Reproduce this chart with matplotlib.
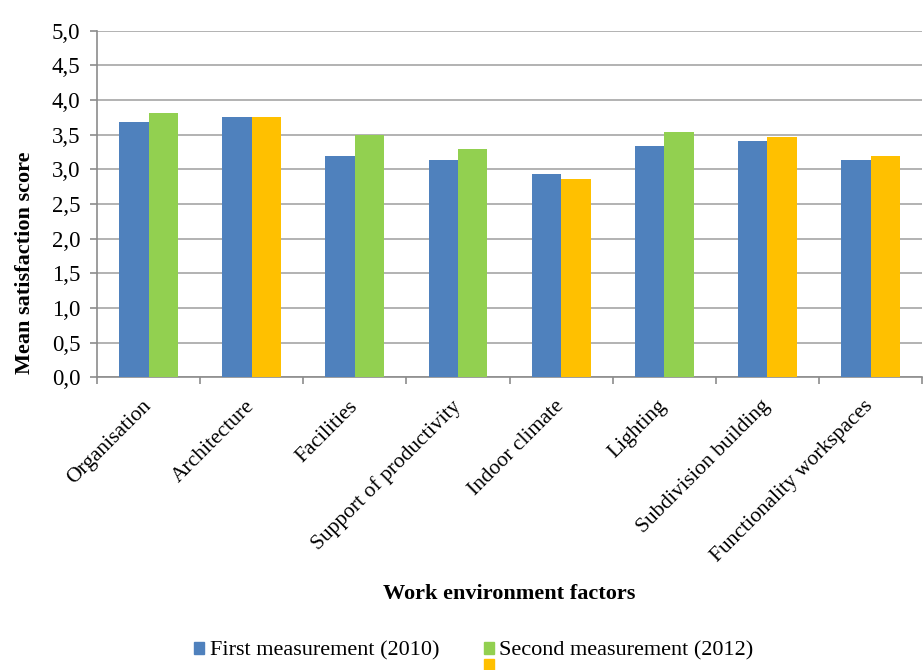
import matplotlib
matplotlib.use("Agg")
import matplotlib.pyplot as plt
import numpy as np
from matplotlib.patches import Patch

categories = ["Organisation", "Architecture", "Facilities", "Support of productivity",
              "Indoor climate", "Lighting", "Subdivision building", "Functionality workspaces"]
first_2010 = [3.69, 3.75, 3.20, 3.13, 2.93, 3.34, 3.41, 3.14]
second_2012 = [3.81, 3.75, 3.49, 3.30, 2.86, 3.54, 3.47, 3.20]
significant = [True, False, True, True, False, True, False, False]
y_ticks = [0.0, 0.5, 1.0, 1.5, 2.0, 2.5, 3.0, 3.5, 4.0, 4.5, 5.0]

BLUE = "#4F81BD"
GREEN = "#92D050"
YELLOW = "#FFC000"
GRID = "#A6A6A6"
AXIS = "#8C8C8C"

plt.rcParams["font.family"] = ["Liberation Serif", "DejaVu Serif"]

fig = plt.figure(figsize=(9.24, 6.70), dpi=100)
ax = fig.add_axes([0.105, 0.437, 0.893, 0.517])

x = np.arange(len(categories))
w = 0.285
ax.bar(x - w / 2, first_2010, w, color=BLUE, zorder=3)
ax.bar(x + w / 2, second_2012, w, color=[GREEN if s else YELLOW for s in significant], zorder=3)

ax.set_xlim(-0.5, len(categories) - 0.5)
ax.set_ylim(0, 5)
ax.set_yticks(y_ticks)
ax.set_yticklabels([f"{v:.1f}".replace(".", ",") for v in y_ticks], fontsize=16.5)
ax.yaxis.grid(True, color=GRID, linewidth=1.2, zorder=0)
ax.set_axisbelow(True)

ax.set_xticks(np.arange(-0.5, len(categories), 1.0))
ax.set_xticklabels([])
ax.set_xticks(x, minor=True)
ax.set_xticklabels(categories, minor=True, rotation=45, ha="right", va="center",
                   rotation_mode="anchor", fontsize=15.5)
ax.tick_params(axis="x", which="minor", length=0, pad=19)
ax.tick_params(axis="x", which="major", length=5, color=AXIS, width=1.2)
ax.tick_params(axis="y", length=5, color=AXIS, width=1.2, pad=7)

for s in ["top", "right"]:
    ax.spines[s].set_visible(False)
for s in ["left", "bottom"]:
    ax.spines[s].set_color(AXIS)
    ax.spines[s].set_linewidth(1.2)

ax.set_ylabel("Mean satisfaction score", fontsize=16, fontweight="bold")
ax.yaxis.set_label_coords(-0.075, 0.33)
fig.text(0.551, 0.114, "Work environment factors", ha="center", va="center",
         fontsize=16, fontweight="bold")

handles = [Patch(color=BLUE, label="First measurement (2010)"),
           Patch(color="none", label=""),
           Patch(color=GREEN, label="Second measurement (2012)"),
           Patch(color=YELLOW, label="")]
fig.legend(handles=handles, ncol=2, loc="upper center", bbox_to_anchor=(0.513, 0.059),
           frameon=False, fontsize=16, handlelength=0.45, handleheight=0.45,
           handletextpad=0.25, columnspacing=2.0, labelspacing=-0.08, borderpad=0)

fig.savefig("out.png", dpi=100)
